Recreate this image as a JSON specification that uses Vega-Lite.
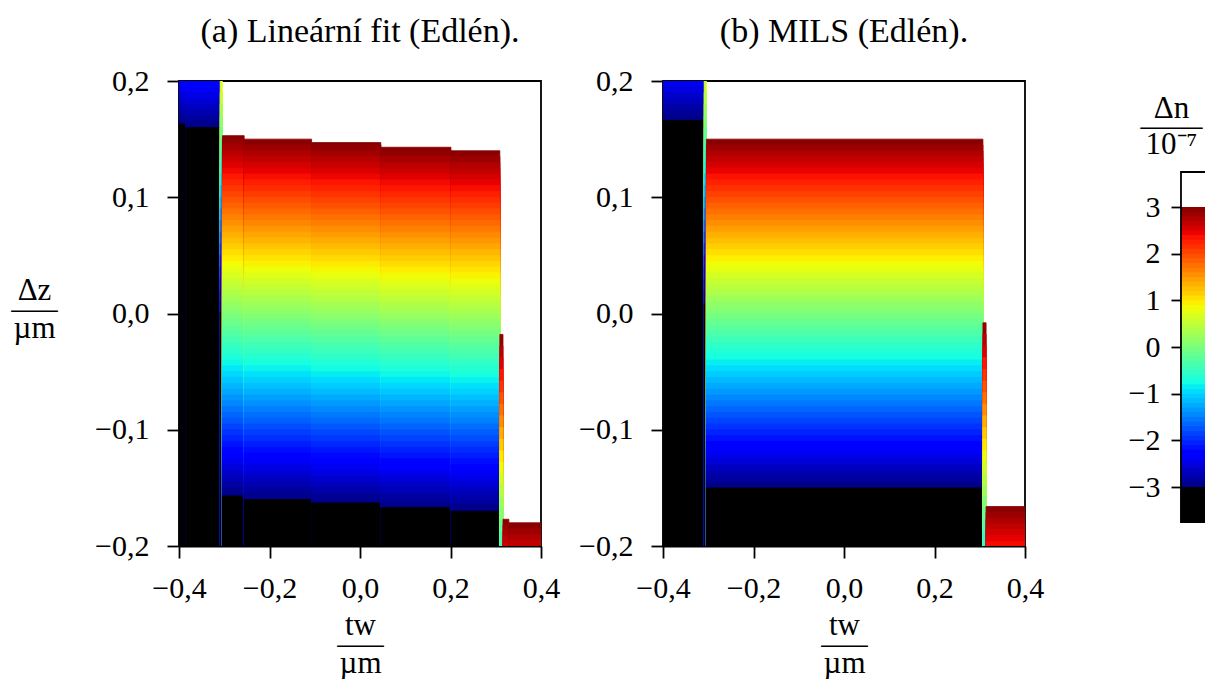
{
"$schema": "https://vega.github.io/schema/vega-lite/v6.json",
"padding": {"left": 9, "top": 14, "right": 0, "bottom": 0},
"background": "white",
"bounds": "flush",
"spacing": 122,
"config": {
  "locale": {"number": {"decimal": ",", "thousands": "\u00a0", "grouping": [3], "currency": ["", "\u00a0Kč"], "minus": "\u2212"}},
  "font": "Liberation Serif",
  "view": {"stroke": "black", "strokeWidth": 1.8},
  "axis": {"domain": true, "domainColor": "black", "domainWidth": 1.8, "ticks": true, "tickColor": "black", "tickWidth": 1.8, "tickSize": 12, "grid": false, "labelFont": "Liberation Serif", "labelFontSize": 30, "labelColor": "black", "labelFlush": false, "labelOverlap": false, "titleFont": "Liberation Serif", "titleFontSize": 31, "titleFontWeight": "normal", "titleColor": "black", "zindex": 1},
  "title": {"font": "Liberation Serif", "fontSize": 34, "fontWeight": "normal", "color": "black", "baseline": "alphabetic", "offset": 17, "anchor": "middle"}
},
"datasets": {
"strips": [
{"s":"a0L","p":"a","x":-0.4,"x2":-0.385},{"s":"a0R","p":"a","x":-0.385,"x2":-0.309},{"s":"aTL","p":"a","x":-0.309,"x2":-0.304},
{"s":"a1","p":"a","x":-0.304,"x2":-0.256},{"s":"a2","p":"a","x":-0.256,"x2":-0.107},{"s":"a3","p":"a","x":-0.107,"x2":0.046},
{"s":"a4","p":"a","x":0.046,"x2":0.201},{"s":"a5","p":"a","x":0.201,"x2":0.309},{"s":"aTR","p":"a","x":0.309,"x2":0.316},
{"s":"aR1","p":"a","x":0.316,"x2":0.329},{"s":"aR2","p":"a","x":0.329,"x2":0.4},
{"s":"b0","p":"b","x":-0.4,"x2":-0.309},{"s":"bTL","p":"b","x":-0.309,"x2":-0.304},{"s":"b1","p":"b","x":-0.304,"x2":0.307},
{"s":"bTR","p":"b","x":0.307,"x2":0.314},{"s":"bR","p":"b","x":0.314,"x2":0.4}
],
"cells": [
{"s":"a0L","z":0.2,"v":-2.33},{"s":"a0L","z":0.195,"v":-2.43},{"s":"a0L","z":0.19,"v":-2.53},{"s":"a0L","z":0.185,"v":-2.62},{"s":"a0L","z":0.18,"v":-2.72},{"s":"a0L","z":0.175,"v":-2.82},{"s":"a0L","z":0.17,"v":-2.91},{"s":"a0L","z":0.165,"v":-2.98},{"s":"a0L","z":0.163,"v":-4},
{"s":"a0R","z":0.2,"v":-2.27},{"s":"a0R","z":0.195,"v":-2.36},{"s":"a0R","z":0.19,"v":-2.46},{"s":"a0R","z":0.185,"v":-2.56},{"s":"a0R","z":0.18,"v":-2.65},{"s":"a0R","z":0.175,"v":-2.75},{"s":"a0R","z":0.17,"v":-2.85},{"s":"a0R","z":0.165,"v":-2.94},{"s":"a0R","z":0.16,"v":-4},
{"s":"aTL","z":0.2,"v":0.75},{"s":"aTL","z":0.19,"v":0.56},{"s":"aTL","z":0.18,"v":0.36},{"s":"aTL","z":0.17,"v":0.17},{"s":"aTL","z":0.16,"v":-0.03},{"s":"aTL","z":0.15,"v":-0.22},{"s":"aTL","z":0.14,"v":-0.41},{"s":"aTL","z":0.13,"v":-0.61},{"s":"aTL","z":0.12,"v":-0.8},{"s":"aTL","z":0.11,"v":-0.99},{"s":"aTL","z":0.1,"v":-1.19},{"s":"aTL","z":0.09,"v":-1.38},{"s":"aTL","z":0.08,"v":-1.57},{"s":"aTL","z":0.07,"v":-1.77},{"s":"aTL","z":0.06,"v":-1.96},{"s":"aTL","z":0.05,"v":-2.15},{"s":"aTL","z":0.04,"v":-2.35},{"s":"aTL","z":0.03,"v":-2.54},{"s":"aTL","z":0.02,"v":-2.73},{"s":"aTL","z":0.01,"v":-2.93},{"s":"aTL","z":0.001,"v":-4},
{"s":"a1","z":0.153,"v":2.97},{"s":"a1","z":0.15,"v":2.89},{"s":"a1","z":0.145,"v":2.79},{"s":"a1","z":0.14,"v":2.7},{"s":"a1","z":0.135,"v":2.6},{"s":"a1","z":0.13,"v":2.5},{"s":"a1","z":0.125,"v":2.41},{"s":"a1","z":0.12,"v":2.31},{"s":"a1","z":0.115,"v":2.21},{"s":"a1","z":0.11,"v":2.12},{"s":"a1","z":0.105,"v":2.02},{"s":"a1","z":0.1,"v":1.92},{"s":"a1","z":0.095,"v":1.83},{"s":"a1","z":0.09,"v":1.73},{"s":"a1","z":0.085,"v":1.63},{"s":"a1","z":0.08,"v":1.54},{"s":"a1","z":0.075,"v":1.44},{"s":"a1","z":0.07,"v":1.34},{"s":"a1","z":0.065,"v":1.25},{"s":"a1","z":0.06,"v":1.15},{"s":"a1","z":0.055,"v":1.05},{"s":"a1","z":0.05,"v":0.96},{"s":"a1","z":0.045,"v":0.86},{"s":"a1","z":0.04,"v":0.76},{"s":"a1","z":0.035,"v":0.67},{"s":"a1","z":0.03,"v":0.57},{"s":"a1","z":0.025,"v":0.47},{"s":"a1","z":0.02,"v":0.38},{"s":"a1","z":0.015,"v":0.28},{"s":"a1","z":0.01,"v":0.18},{"s":"a1","z":0.005,"v":0.09},{"s":"a1","z":0,"v":-0.01},{"s":"a1","z":-0.005,"v":-0.11},{"s":"a1","z":-0.01,"v":-0.21},{"s":"a1","z":-0.015,"v":-0.3},{"s":"a1","z":-0.02,"v":-0.4},{"s":"a1","z":-0.025,"v":-0.5},{"s":"a1","z":-0.03,"v":-0.59},{"s":"a1","z":-0.035,"v":-0.69},{"s":"a1","z":-0.04,"v":-0.79},{"s":"a1","z":-0.045,"v":-0.88},{"s":"a1","z":-0.05,"v":-0.98},{"s":"a1","z":-0.055,"v":-1.08},{"s":"a1","z":-0.06,"v":-1.17},{"s":"a1","z":-0.065,"v":-1.27},{"s":"a1","z":-0.07,"v":-1.37},{"s":"a1","z":-0.075,"v":-1.46},{"s":"a1","z":-0.08,"v":-1.56},{"s":"a1","z":-0.085,"v":-1.66},{"s":"a1","z":-0.09,"v":-1.75},{"s":"a1","z":-0.095,"v":-1.85},{"s":"a1","z":-0.1,"v":-1.95},{"s":"a1","z":-0.105,"v":-2.04},{"s":"a1","z":-0.11,"v":-2.14},{"s":"a1","z":-0.115,"v":-2.24},{"s":"a1","z":-0.12,"v":-2.33},{"s":"a1","z":-0.125,"v":-2.43},{"s":"a1","z":-0.13,"v":-2.53},{"s":"a1","z":-0.135,"v":-2.62},{"s":"a1","z":-0.14,"v":-2.72},{"s":"a1","z":-0.145,"v":-2.82},{"s":"a1","z":-0.15,"v":-2.91},{"s":"a1","z":-0.155,"v":-2.98},{"s":"a1","z":-0.157,"v":-4},
{"s":"a2","z":0.15,"v":2.95},{"s":"a2","z":0.145,"v":2.85},{"s":"a2","z":0.14,"v":2.76},{"s":"a2","z":0.135,"v":2.66},{"s":"a2","z":0.13,"v":2.56},{"s":"a2","z":0.125,"v":2.47},{"s":"a2","z":0.12,"v":2.37},{"s":"a2","z":0.115,"v":2.27},{"s":"a2","z":0.11,"v":2.18},{"s":"a2","z":0.105,"v":2.08},{"s":"a2","z":0.1,"v":1.98},{"s":"a2","z":0.095,"v":1.89},{"s":"a2","z":0.09,"v":1.79},{"s":"a2","z":0.085,"v":1.69},{"s":"a2","z":0.08,"v":1.6},{"s":"a2","z":0.075,"v":1.5},{"s":"a2","z":0.07,"v":1.4},{"s":"a2","z":0.065,"v":1.31},{"s":"a2","z":0.06,"v":1.21},{"s":"a2","z":0.055,"v":1.11},{"s":"a2","z":0.05,"v":1.02},{"s":"a2","z":0.045,"v":0.92},{"s":"a2","z":0.04,"v":0.82},{"s":"a2","z":0.035,"v":0.73},{"s":"a2","z":0.03,"v":0.63},{"s":"a2","z":0.025,"v":0.53},{"s":"a2","z":0.02,"v":0.44},{"s":"a2","z":0.015,"v":0.34},{"s":"a2","z":0.01,"v":0.24},{"s":"a2","z":0.005,"v":0.15},{"s":"a2","z":0,"v":0.05},{"s":"a2","z":-0.005,"v":-0.05},{"s":"a2","z":-0.01,"v":-0.15},{"s":"a2","z":-0.015,"v":-0.24},{"s":"a2","z":-0.02,"v":-0.34},{"s":"a2","z":-0.025,"v":-0.44},{"s":"a2","z":-0.03,"v":-0.53},{"s":"a2","z":-0.035,"v":-0.63},{"s":"a2","z":-0.04,"v":-0.73},{"s":"a2","z":-0.045,"v":-0.82},{"s":"a2","z":-0.05,"v":-0.92},{"s":"a2","z":-0.055,"v":-1.02},{"s":"a2","z":-0.06,"v":-1.11},{"s":"a2","z":-0.065,"v":-1.21},{"s":"a2","z":-0.07,"v":-1.31},{"s":"a2","z":-0.075,"v":-1.4},{"s":"a2","z":-0.08,"v":-1.5},{"s":"a2","z":-0.085,"v":-1.6},{"s":"a2","z":-0.09,"v":-1.69},{"s":"a2","z":-0.095,"v":-1.79},{"s":"a2","z":-0.1,"v":-1.89},{"s":"a2","z":-0.105,"v":-1.98},{"s":"a2","z":-0.11,"v":-2.08},{"s":"a2","z":-0.115,"v":-2.18},{"s":"a2","z":-0.12,"v":-2.27},{"s":"a2","z":-0.125,"v":-2.37},{"s":"a2","z":-0.13,"v":-2.47},{"s":"a2","z":-0.135,"v":-2.56},{"s":"a2","z":-0.14,"v":-2.66},{"s":"a2","z":-0.145,"v":-2.76},{"s":"a2","z":-0.15,"v":-2.85},{"s":"a2","z":-0.155,"v":-2.95},{"s":"a2","z":-0.16,"v":-4},
{"s":"a3","z":0.147,"v":2.98},{"s":"a3","z":0.145,"v":2.91},{"s":"a3","z":0.14,"v":2.82},{"s":"a3","z":0.135,"v":2.72},{"s":"a3","z":0.13,"v":2.62},{"s":"a3","z":0.125,"v":2.53},{"s":"a3","z":0.12,"v":2.43},{"s":"a3","z":0.115,"v":2.33},{"s":"a3","z":0.11,"v":2.24},{"s":"a3","z":0.105,"v":2.14},{"s":"a3","z":0.1,"v":2.04},{"s":"a3","z":0.095,"v":1.95},{"s":"a3","z":0.09,"v":1.85},{"s":"a3","z":0.085,"v":1.75},{"s":"a3","z":0.08,"v":1.66},{"s":"a3","z":0.075,"v":1.56},{"s":"a3","z":0.07,"v":1.46},{"s":"a3","z":0.065,"v":1.37},{"s":"a3","z":0.06,"v":1.27},{"s":"a3","z":0.055,"v":1.17},{"s":"a3","z":0.05,"v":1.08},{"s":"a3","z":0.045,"v":0.98},{"s":"a3","z":0.04,"v":0.88},{"s":"a3","z":0.035,"v":0.79},{"s":"a3","z":0.03,"v":0.69},{"s":"a3","z":0.025,"v":0.59},{"s":"a3","z":0.02,"v":0.5},{"s":"a3","z":0.015,"v":0.4},{"s":"a3","z":0.01,"v":0.3},{"s":"a3","z":0.005,"v":0.21},{"s":"a3","z":0,"v":0.11},{"s":"a3","z":-0.005,"v":0.01},{"s":"a3","z":-0.01,"v":-0.09},{"s":"a3","z":-0.015,"v":-0.18},{"s":"a3","z":-0.02,"v":-0.28},{"s":"a3","z":-0.025,"v":-0.38},{"s":"a3","z":-0.03,"v":-0.47},{"s":"a3","z":-0.035,"v":-0.57},{"s":"a3","z":-0.04,"v":-0.67},{"s":"a3","z":-0.045,"v":-0.76},{"s":"a3","z":-0.05,"v":-0.86},{"s":"a3","z":-0.055,"v":-0.96},{"s":"a3","z":-0.06,"v":-1.05},{"s":"a3","z":-0.065,"v":-1.15},{"s":"a3","z":-0.07,"v":-1.25},{"s":"a3","z":-0.075,"v":-1.34},{"s":"a3","z":-0.08,"v":-1.44},{"s":"a3","z":-0.085,"v":-1.54},{"s":"a3","z":-0.09,"v":-1.63},{"s":"a3","z":-0.095,"v":-1.73},{"s":"a3","z":-0.1,"v":-1.83},{"s":"a3","z":-0.105,"v":-1.92},{"s":"a3","z":-0.11,"v":-2.02},{"s":"a3","z":-0.115,"v":-2.12},{"s":"a3","z":-0.12,"v":-2.21},{"s":"a3","z":-0.125,"v":-2.31},{"s":"a3","z":-0.13,"v":-2.41},{"s":"a3","z":-0.135,"v":-2.5},{"s":"a3","z":-0.14,"v":-2.6},{"s":"a3","z":-0.145,"v":-2.7},{"s":"a3","z":-0.15,"v":-2.79},{"s":"a3","z":-0.155,"v":-2.89},{"s":"a3","z":-0.16,"v":-2.97},{"s":"a3","z":-0.163,"v":-4},
{"s":"a4","z":0.143,"v":2.97},{"s":"a4","z":0.14,"v":2.9},{"s":"a4","z":0.135,"v":2.8},{"s":"a4","z":0.13,"v":2.7},{"s":"a4","z":0.125,"v":2.6},{"s":"a4","z":0.12,"v":2.5},{"s":"a4","z":0.115,"v":2.4},{"s":"a4","z":0.11,"v":2.32},{"s":"a4","z":0.105,"v":2.22},{"s":"a4","z":0.1,"v":2.12},{"s":"a4","z":0.095,"v":2.03},{"s":"a4","z":0.09,"v":1.93},{"s":"a4","z":0.085,"v":1.83},{"s":"a4","z":0.08,"v":1.74},{"s":"a4","z":0.075,"v":1.64},{"s":"a4","z":0.07,"v":1.54},{"s":"a4","z":0.065,"v":1.45},{"s":"a4","z":0.06,"v":1.35},{"s":"a4","z":0.055,"v":1.25},{"s":"a4","z":0.05,"v":1.16},{"s":"a4","z":0.045,"v":1.06},{"s":"a4","z":0.04,"v":0.96},{"s":"a4","z":0.035,"v":0.87},{"s":"a4","z":0.03,"v":0.77},{"s":"a4","z":0.025,"v":0.67},{"s":"a4","z":0.02,"v":0.58},{"s":"a4","z":0.015,"v":0.48},{"s":"a4","z":0.01,"v":0.38},{"s":"a4","z":0.005,"v":0.29},{"s":"a4","z":0,"v":0.19},{"s":"a4","z":-0.005,"v":0.09},{"s":"a4","z":-0.01,"v":-0.02},{"s":"a4","z":-0.015,"v":-0.11},{"s":"a4","z":-0.02,"v":-0.21},{"s":"a4","z":-0.025,"v":-0.31},{"s":"a4","z":-0.03,"v":-0.4},{"s":"a4","z":-0.035,"v":-0.5},{"s":"a4","z":-0.04,"v":-0.6},{"s":"a4","z":-0.045,"v":-0.69},{"s":"a4","z":-0.05,"v":-0.79},{"s":"a4","z":-0.055,"v":-0.89},{"s":"a4","z":-0.06,"v":-0.98},{"s":"a4","z":-0.065,"v":-1.08},{"s":"a4","z":-0.07,"v":-1.18},{"s":"a4","z":-0.075,"v":-1.27},{"s":"a4","z":-0.08,"v":-1.37},{"s":"a4","z":-0.085,"v":-1.47},{"s":"a4","z":-0.09,"v":-1.56},{"s":"a4","z":-0.095,"v":-1.66},{"s":"a4","z":-0.1,"v":-1.76},{"s":"a4","z":-0.105,"v":-1.85},{"s":"a4","z":-0.11,"v":-1.95},{"s":"a4","z":-0.115,"v":-2.05},{"s":"a4","z":-0.12,"v":-2.14},{"s":"a4","z":-0.125,"v":-2.24},{"s":"a4","z":-0.13,"v":-2.34},{"s":"a4","z":-0.135,"v":-2.43},{"s":"a4","z":-0.14,"v":-2.53},{"s":"a4","z":-0.145,"v":-2.63},{"s":"a4","z":-0.15,"v":-2.72},{"s":"a4","z":-0.155,"v":-2.82},{"s":"a4","z":-0.16,"v":-2.91},{"s":"a4","z":-0.165,"v":-2.98},{"s":"a4","z":-0.167,"v":-4},
{"s":"a5","z":0.14,"v":2.95},{"s":"a5","z":0.135,"v":2.85},{"s":"a5","z":0.13,"v":2.75},{"s":"a5","z":0.125,"v":2.66},{"s":"a5","z":0.12,"v":2.56},{"s":"a5","z":0.115,"v":2.46},{"s":"a5","z":0.11,"v":2.37},{"s":"a5","z":0.105,"v":2.27},{"s":"a5","z":0.1,"v":2.17},{"s":"a5","z":0.095,"v":2.08},{"s":"a5","z":0.09,"v":1.98},{"s":"a5","z":0.085,"v":1.88},{"s":"a5","z":0.08,"v":1.79},{"s":"a5","z":0.075,"v":1.69},{"s":"a5","z":0.07,"v":1.59},{"s":"a5","z":0.065,"v":1.5},{"s":"a5","z":0.06,"v":1.4},{"s":"a5","z":0.055,"v":1.3},{"s":"a5","z":0.05,"v":1.21},{"s":"a5","z":0.045,"v":1.11},{"s":"a5","z":0.04,"v":1.01},{"s":"a5","z":0.035,"v":0.92},{"s":"a5","z":0.03,"v":0.82},{"s":"a5","z":0.025,"v":0.72},{"s":"a5","z":0.02,"v":0.63},{"s":"a5","z":0.015,"v":0.53},{"s":"a5","z":0.01,"v":0.43},{"s":"a5","z":0.005,"v":0.34},{"s":"a5","z":0,"v":0.24},{"s":"a5","z":-0.005,"v":0.14},{"s":"a5","z":-0.01,"v":0.04},{"s":"a5","z":-0.015,"v":-0.05},{"s":"a5","z":-0.02,"v":-0.15},{"s":"a5","z":-0.025,"v":-0.25},{"s":"a5","z":-0.03,"v":-0.34},{"s":"a5","z":-0.035,"v":-0.44},{"s":"a5","z":-0.04,"v":-0.54},{"s":"a5","z":-0.045,"v":-0.63},{"s":"a5","z":-0.05,"v":-0.73},{"s":"a5","z":-0.055,"v":-0.83},{"s":"a5","z":-0.06,"v":-0.92},{"s":"a5","z":-0.065,"v":-1.02},{"s":"a5","z":-0.07,"v":-1.12},{"s":"a5","z":-0.075,"v":-1.21},{"s":"a5","z":-0.08,"v":-1.31},{"s":"a5","z":-0.085,"v":-1.41},{"s":"a5","z":-0.09,"v":-1.5},{"s":"a5","z":-0.095,"v":-1.6},{"s":"a5","z":-0.1,"v":-1.7},{"s":"a5","z":-0.105,"v":-1.79},{"s":"a5","z":-0.11,"v":-1.89},{"s":"a5","z":-0.115,"v":-1.99},{"s":"a5","z":-0.12,"v":-2.08},{"s":"a5","z":-0.125,"v":-2.18},{"s":"a5","z":-0.13,"v":-2.28},{"s":"a5","z":-0.135,"v":-2.37},{"s":"a5","z":-0.14,"v":-2.47},{"s":"a5","z":-0.145,"v":-2.57},{"s":"a5","z":-0.15,"v":-2.66},{"s":"a5","z":-0.155,"v":-2.76},{"s":"a5","z":-0.16,"v":-2.85},{"s":"a5","z":-0.165,"v":-2.95},{"s":"a5","z":-0.17,"v":-4},
{"s":"aTR","z":-0.018,"v":2.9},{"s":"aTR","z":-0.028,"v":2.71},{"s":"aTR","z":-0.038,"v":2.52},{"s":"aTR","z":-0.048,"v":2.32},{"s":"aTR","z":-0.058,"v":2.13},{"s":"aTR","z":-0.068,"v":1.93},{"s":"aTR","z":-0.078,"v":1.74},{"s":"aTR","z":-0.088,"v":1.55},{"s":"aTR","z":-0.098,"v":1.35},{"s":"aTR","z":-0.108,"v":1.16},{"s":"aTR","z":-0.118,"v":0.97},{"s":"aTR","z":-0.128,"v":0.77},{"s":"aTR","z":-0.138,"v":0.58},{"s":"aTR","z":-0.148,"v":0.39},{"s":"aTR","z":-0.158,"v":0.19},{"s":"aTR","z":-0.168,"v":0},{"s":"aTR","z":-0.178,"v":-0.19},{"s":"aTR","z":-0.188,"v":-0.39},{"s":"aTR","z":-0.198,"v":-0.5},
{"s":"aR1","z":-0.177,"v":2.95},{"s":"aR1","z":-0.182,"v":2.85},{"s":"aR1","z":-0.187,"v":2.76},{"s":"aR1","z":-0.192,"v":2.66},{"s":"aR1","z":-0.197,"v":2.58},
{"s":"aR2","z":-0.18,"v":2.95},{"s":"aR2","z":-0.185,"v":2.85},{"s":"aR2","z":-0.19,"v":2.76},{"s":"aR2","z":-0.195,"v":2.66},
{"s":"b0","z":0.2,"v":-2.4},{"s":"b0","z":0.195,"v":-2.5},{"s":"b0","z":0.19,"v":-2.59},{"s":"b0","z":0.185,"v":-2.69},{"s":"b0","z":0.18,"v":-2.79},{"s":"b0","z":0.175,"v":-2.88},{"s":"b0","z":0.17,"v":-2.97},{"s":"b0","z":0.166,"v":-4},
{"s":"bTL","z":0.2,"v":0.62},{"s":"bTL","z":0.19,"v":0.42},{"s":"bTL","z":0.18,"v":0.23},{"s":"bTL","z":0.17,"v":0.04},{"s":"bTL","z":0.16,"v":-0.16},{"s":"bTL","z":0.15,"v":-0.35},{"s":"bTL","z":0.14,"v":-0.54},{"s":"bTL","z":0.13,"v":-0.74},{"s":"bTL","z":0.12,"v":-0.93},{"s":"bTL","z":0.11,"v":-1.12},{"s":"bTL","z":0.1,"v":-1.32},{"s":"bTL","z":0.09,"v":-1.51},{"s":"bTL","z":0.08,"v":-1.7},{"s":"bTL","z":0.07,"v":-1.9},{"s":"bTL","z":0.06,"v":-2.09},{"s":"bTL","z":0.05,"v":-2.29},{"s":"bTL","z":0.04,"v":-2.48},{"s":"bTL","z":0.03,"v":-2.67},{"s":"bTL","z":0.02,"v":-2.87},{"s":"bTL","z":0.01,"v":-2.98},{"s":"bTL","z":0.008,"v":-4},
{"s":"b1","z":0.15,"v":2.95},{"s":"b1","z":0.145,"v":2.85},{"s":"b1","z":0.14,"v":2.75},{"s":"b1","z":0.135,"v":2.65},{"s":"b1","z":0.13,"v":2.55},{"s":"b1","z":0.125,"v":2.45},{"s":"b1","z":0.12,"v":2.35},{"s":"b1","z":0.115,"v":2.25},{"s":"b1","z":0.11,"v":2.15},{"s":"b1","z":0.105,"v":2.05},{"s":"b1","z":0.1,"v":1.95},{"s":"b1","z":0.095,"v":1.85},{"s":"b1","z":0.09,"v":1.75},{"s":"b1","z":0.085,"v":1.65},{"s":"b1","z":0.08,"v":1.55},{"s":"b1","z":0.075,"v":1.45},{"s":"b1","z":0.07,"v":1.35},{"s":"b1","z":0.065,"v":1.25},{"s":"b1","z":0.06,"v":1.15},{"s":"b1","z":0.055,"v":1.05},{"s":"b1","z":0.05,"v":0.95},{"s":"b1","z":0.045,"v":0.85},{"s":"b1","z":0.04,"v":0.75},{"s":"b1","z":0.035,"v":0.65},{"s":"b1","z":0.03,"v":0.55},{"s":"b1","z":0.025,"v":0.45},{"s":"b1","z":0.02,"v":0.35},{"s":"b1","z":0.015,"v":0.25},{"s":"b1","z":0.01,"v":0.15},{"s":"b1","z":0.005,"v":0.05},{"s":"b1","z":0,"v":-0.05},{"s":"b1","z":-0.005,"v":-0.15},{"s":"b1","z":-0.01,"v":-0.25},{"s":"b1","z":-0.015,"v":-0.35},{"s":"b1","z":-0.02,"v":-0.45},{"s":"b1","z":-0.025,"v":-0.55},{"s":"b1","z":-0.03,"v":-0.65},{"s":"b1","z":-0.035,"v":-0.75},{"s":"b1","z":-0.04,"v":-0.85},{"s":"b1","z":-0.045,"v":-0.95},{"s":"b1","z":-0.05,"v":-1.05},{"s":"b1","z":-0.055,"v":-1.15},{"s":"b1","z":-0.06,"v":-1.25},{"s":"b1","z":-0.065,"v":-1.35},{"s":"b1","z":-0.07,"v":-1.45},{"s":"b1","z":-0.075,"v":-1.55},{"s":"b1","z":-0.08,"v":-1.65},{"s":"b1","z":-0.085,"v":-1.75},{"s":"b1","z":-0.09,"v":-1.85},{"s":"b1","z":-0.095,"v":-1.95},{"s":"b1","z":-0.1,"v":-2.05},{"s":"b1","z":-0.105,"v":-2.15},{"s":"b1","z":-0.11,"v":-2.25},{"s":"b1","z":-0.115,"v":-2.35},{"s":"b1","z":-0.12,"v":-2.45},{"s":"b1","z":-0.125,"v":-2.55},{"s":"b1","z":-0.13,"v":-2.65},{"s":"b1","z":-0.135,"v":-2.75},{"s":"b1","z":-0.14,"v":-2.85},{"s":"b1","z":-0.145,"v":-2.95},{"s":"b1","z":-0.15,"v":-4},
{"s":"bTR","z":-0.008,"v":2.9},{"s":"bTR","z":-0.018,"v":2.71},{"s":"bTR","z":-0.028,"v":2.52},{"s":"bTR","z":-0.038,"v":2.32},{"s":"bTR","z":-0.048,"v":2.13},{"s":"bTR","z":-0.058,"v":1.93},{"s":"bTR","z":-0.068,"v":1.74},{"s":"bTR","z":-0.078,"v":1.55},{"s":"bTR","z":-0.088,"v":1.35},{"s":"bTR","z":-0.098,"v":1.16},{"s":"bTR","z":-0.108,"v":0.97},{"s":"bTR","z":-0.118,"v":0.77},{"s":"bTR","z":-0.128,"v":0.58},{"s":"bTR","z":-0.138,"v":0.39},{"s":"bTR","z":-0.148,"v":0.19},{"s":"bTR","z":-0.158,"v":0},{"s":"bTR","z":-0.168,"v":-0.19},{"s":"bTR","z":-0.178,"v":-0.39},{"s":"bTR","z":-0.188,"v":-0.58},{"s":"bTR","z":-0.198,"v":-0.7},
{"s":"bR","z":-0.166,"v":2.95},{"s":"bR","z":-0.171,"v":2.86},{"s":"bR","z":-0.176,"v":2.76},{"s":"bR","z":-0.181,"v":2.66},{"s":"bR","z":-0.186,"v":2.57},{"s":"bR","z":-0.191,"v":2.47},{"s":"bR","z":-0.196,"v":2.39}
],
"cbar": [
{"c":3.75,"v":4},{"c":3,"v":2.95},{"c":2.9,"v":2.85},{"c":2.8,"v":2.75},{"c":2.7,"v":2.65},{"c":2.6,"v":2.55},{"c":2.5,"v":2.45},{"c":2.4,"v":2.35},{"c":2.3,"v":2.25},{"c":2.2,"v":2.15},{"c":2.1,"v":2.05},{"c":2,"v":1.95},{"c":1.9,"v":1.85},{"c":1.8,"v":1.75},{"c":1.7,"v":1.65},{"c":1.6,"v":1.55},{"c":1.5,"v":1.45},{"c":1.4,"v":1.35},{"c":1.3,"v":1.25},{"c":1.2,"v":1.15},{"c":1.1,"v":1.05},{"c":1,"v":0.95},{"c":0.9,"v":0.85},{"c":0.8,"v":0.75},{"c":0.7,"v":0.65},{"c":0.6,"v":0.55},{"c":0.5,"v":0.45},{"c":0.4,"v":0.35},{"c":0.3,"v":0.25},{"c":0.2,"v":0.15},{"c":0.1,"v":0.05},{"c":0,"v":-0.05},{"c":-0.1,"v":-0.15},{"c":-0.2,"v":-0.25},{"c":-0.3,"v":-0.35},{"c":-0.4,"v":-0.45},{"c":-0.5,"v":-0.55},{"c":-0.6,"v":-0.65},{"c":-0.7,"v":-0.75},{"c":-0.8,"v":-0.85},{"c":-0.9,"v":-0.95},{"c":-1,"v":-1.05},{"c":-1.1,"v":-1.15},{"c":-1.2,"v":-1.25},{"c":-1.3,"v":-1.35},{"c":-1.4,"v":-1.45},{"c":-1.5,"v":-1.55},{"c":-1.6,"v":-1.65},{"c":-1.7,"v":-1.75},{"c":-1.8,"v":-1.85},{"c":-1.9,"v":-1.95},{"c":-2,"v":-2.05},{"c":-2.1,"v":-2.15},{"c":-2.2,"v":-2.25},{"c":-2.3,"v":-2.35},{"c":-2.4,"v":-2.45},{"c":-2.5,"v":-2.55},{"c":-2.6,"v":-2.65},{"c":-2.7,"v":-2.75},{"c":-2.8,"v":-2.85},{"c":-2.9,"v":-2.95},{"c":-3,"v":-4}
]
},
"hconcat": [
{
  "width": 362, "height": 465,
  "title": {"text": "(a) Lineární fit (Edlén)."},
  "data": {"name": "cells"},
  "transform": [
    {"lookup": "s", "from": {"data": {"name": "strips"}, "key": "s", "fields": ["p", "x", "x2"]}},
    {"filter": "datum.p === 'a'"}
  ],
  "mark": {"type": "rect", "clip": true, "strokeWidth": 0.8},
  "encoding": {
    "x": {"field": "x", "type": "quantitative", "scale": {"domain": [-0.4, 0.4], "nice": false, "zero": false},
          "axis": {"values": [-0.4, -0.2, 0, 0.2, 0.4], "format": ".1f", "labelPadding": 15, "title": ["tw", "\u2014\u2013", "µm"], "titleAlign": "center", "titleBaseline": "alphabetic", "titleX": 181, "titleY": 88, "titleLineHeight": 19}},
    "x2": {"field": "x2"},
    "y": {"field": "z", "type": "quantitative", "scale": {"domain": [-0.2, 0.2], "nice": false, "zero": false},
          "axis": {"values": [-0.2, -0.1, 0, 0.1, 0.2], "format": ".1f", "labelPadding": 18, "title": ["Δz", "\u2014\u2013", "µm"], "titleAngle": 0, "titleAlign": "center", "titleBaseline": "alphabetic", "titleX": -145, "titleY": 218, "titleLineHeight": 19}},
    "y2": {"datum": -0.2},
    "color": {
      "condition": [{"test": "datum.v > 3", "value": "#ffffff"}, {"test": "datum.v < -3", "value": "#000000"}],
      "field": "v", "type": "quantitative", "legend": null,
      "scale": {"type": "linear", "domain": [-3, -2.34, -2.25, -0.96, -0.9, -0.75, 0.84, 0.9, 0.96, 2.34, 2.46, 3], "range": ["#000080", "#0000ff", "#0000ff", "#00dbff", "#00e6f7", "#15ffe2", "#efff08", "#f7f500", "#ffec00", "#ff1300", "#e80000", "#800000"], "interpolate": "rgb", "zero": false, "nice": false, "clamp": true}
    },
    "stroke": {
      "condition": [{"test": "datum.v > 3", "value": "#ffffff"}, {"test": "datum.v < -3", "value": "#000000"}],
      "field": "v", "type": "quantitative", "legend": null,
      "scale": {"type": "linear", "domain": [-3, -2.34, -2.25, -0.96, -0.9, -0.75, 0.84, 0.9, 0.96, 2.34, 2.46, 3], "range": ["#000080", "#0000ff", "#0000ff", "#00dbff", "#00e6f7", "#15ffe2", "#efff08", "#f7f500", "#ffec00", "#ff1300", "#e80000", "#800000"], "interpolate": "rgb", "zero": false, "nice": false, "clamp": true}
    }
  }
},
{
  "width": 362, "height": 465,
  "title": {"text": "(b) MILS (Edlén)."},
  "data": {"name": "cells"},
  "transform": [
    {"lookup": "s", "from": {"data": {"name": "strips"}, "key": "s", "fields": ["p", "x", "x2"]}},
    {"filter": "datum.p === 'b'"}
  ],
  "mark": {"type": "rect", "clip": true, "strokeWidth": 0.8},
  "encoding": {
    "x": {"field": "x", "type": "quantitative", "scale": {"domain": [-0.4, 0.4], "nice": false, "zero": false},
          "axis": {"values": [-0.4, -0.2, 0, 0.2, 0.4], "format": ".1f", "labelPadding": 15, "title": ["tw", "\u2014\u2013", "µm"], "titleAlign": "center", "titleBaseline": "alphabetic", "titleX": 181, "titleY": 88, "titleLineHeight": 19}},
    "x2": {"field": "x2"},
    "y": {"field": "z", "type": "quantitative", "scale": {"domain": [-0.2, 0.2], "nice": false, "zero": false},
          "axis": {"values": [-0.2, -0.1, 0, 0.1, 0.2], "format": ".1f", "labelPadding": 18, "title": null}},
    "y2": {"datum": -0.2},
    "color": {
      "condition": [{"test": "datum.v > 3", "value": "#ffffff"}, {"test": "datum.v < -3", "value": "#000000"}],
      "field": "v", "type": "quantitative", "legend": null,
      "scale": {"type": "linear", "domain": [-3, -2.34, -2.25, -0.96, -0.9, -0.75, 0.84, 0.9, 0.96, 2.34, 2.46, 3], "range": ["#000080", "#0000ff", "#0000ff", "#00dbff", "#00e6f7", "#15ffe2", "#efff08", "#f7f500", "#ffec00", "#ff1300", "#e80000", "#800000"], "interpolate": "rgb", "zero": false, "nice": false, "clamp": true}
    },
    "stroke": {
      "condition": [{"test": "datum.v > 3", "value": "#ffffff"}, {"test": "datum.v < -3", "value": "#000000"}],
      "field": "v", "type": "quantitative", "legend": null,
      "scale": {"type": "linear", "domain": [-3, -2.34, -2.25, -0.96, -0.9, -0.75, 0.84, 0.9, 0.96, 2.34, 2.46, 3], "range": ["#000080", "#0000ff", "#0000ff", "#00dbff", "#00e6f7", "#15ffe2", "#efff08", "#f7f500", "#ffec00", "#ff1300", "#e80000", "#800000"], "interpolate": "rgb", "zero": false, "nice": false, "clamp": true}
    }
  }
},
{
  "width": 58, "height": 465,
  "view": {"stroke": null},
  "layer": [
    {
      "data": {"name": "cbar"},
      "mark": {"type": "rect", "clip": true},
      "encoding": {
        "x": {"datum": 0.586, "type": "quantitative", "scale": {"domain": [0, 1], "nice": false, "zero": false}, "axis": null},
        "x2": {"datum": 1.2},
        "y": {"field": "c", "type": "quantitative", "scale": {"domain": [-4.264, 5.7], "nice": false, "zero": false},
              "axis": {"values": [-3, -2, -1, 0, 1, 2, 3], "format": "d", "offset": -34, "domain": false, "tickSize": 10, "labelPadding": 11, "title": ["Δn", "\u2014\u2014", "10⁻⁷"], "titleAngle": 0, "titleAlign": "center", "titleBaseline": "alphabetic", "titleX": -10, "titleY": 36, "titleLineHeight": 18}},
        "y2": {"datum": -3.75},
        "color": {
          "condition": [{"test": "datum.v > 3", "value": "#ffffff"}, {"test": "datum.v < -3", "value": "#000000"}],
          "field": "v", "type": "quantitative", "legend": null,
          "scale": {"type": "linear", "domain": [-3, -2.34, -2.25, -0.96, -0.9, -0.75, 0.84, 0.9, 0.96, 2.34, 2.46, 3], "range": ["#000080", "#0000ff", "#0000ff", "#00dbff", "#00e6f7", "#15ffe2", "#efff08", "#f7f500", "#ffec00", "#ff1300", "#e80000", "#800000"], "interpolate": "rgb", "zero": false, "nice": false, "clamp": true}
        }
      }
    },
    {
      "data": {"values": [{"c": 3.75, "c2": -3.75}]},
      "mark": {"type": "rect", "clip": true, "fillOpacity": 0, "stroke": "black", "strokeWidth": 1.8},
      "encoding": {
        "x": {"datum": 0.586, "type": "quantitative"},
        "x2": {"datum": 1.2},
        "y": {"field": "c", "type": "quantitative"},
        "y2": {"field": "c2"}
      }
    }
  ]
}
]
}
